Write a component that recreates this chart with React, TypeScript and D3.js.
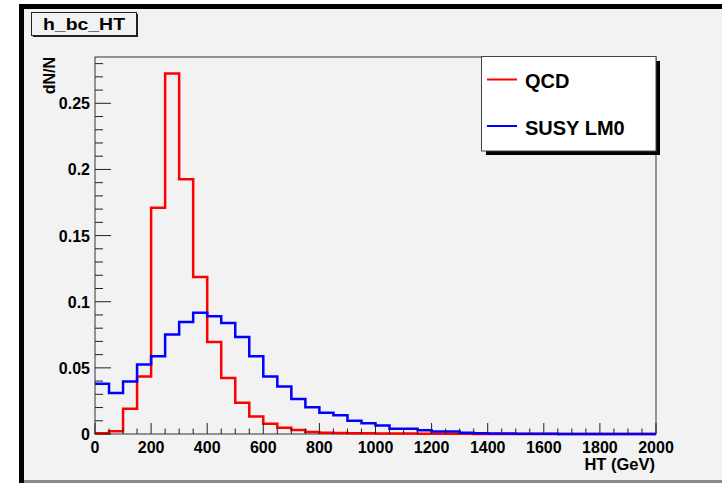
import React from "react";
import * as d3 from "d3";

const binEdges: number[] = d3.range(0, 2001, 50);
const qcdValues: number[] = [
  0.0005, 0.002, 0.019, 0.0435, 0.171, 0.2725, 0.1925, 0.1187, 0.0695, 0.0423,
  0.0236, 0.0132, 0.0077, 0.0047, 0.0031, 0.0015, 0.001, 0.0008, 0.0006, 0.0005,
  0.0004, 0.0003, 0.0003, 0.0002, 0.0002, 0.0002, 0.0001, 0, 0, 0,
  0, 0, 0, 0, 0, 0, 0, 0, 0, 0,
];
const susyValues: number[] = [
  0.038, 0.031, 0.0397, 0.0526, 0.0587, 0.0753, 0.0847, 0.0917, 0.089, 0.0839,
  0.0733, 0.0587, 0.0435, 0.036, 0.0265, 0.0203, 0.016, 0.0142, 0.01, 0.0082,
  0.0064, 0.0039, 0.0039, 0.0029, 0.0019, 0.0019, 0.0009, 0.0006, 0.0004, 0.0003,
  0.0002, 0.0001, 0.0001, 0.00005, 0, 0, 0, 0, 0, 0,
];
const xTickLabels: number[] = [0, 200, 400, 600, 800, 1000, 1200, 1400, 1600, 1800, 2000];
const yTickLabels: number[] = [0, 0.05, 0.1, 0.15, 0.2, 0.25];
const seriesNames: string[] = ["QCD", "SUSY LM0"];
const seriesColors: string[] = ["#ff0000", "#0000ff"];

const FONT = "'Liberation Sans', Arial, Helvetica, sans-serif";

export default function App() {
  const W = 722, H = 483;
  const left = 95, right = 656, top = 57, bottom = 434;
  const x = d3.scaleLinear().domain([0, 2000]).range([left, right]);
  const y = d3.scaleLinear().domain([0, 0.285]).range([bottom, top]);

  const histPath = (vals: number[]) => {
    const p = d3.path();
    vals.forEach((v, i) => {
      const x0 = x(binEdges[i]);
      const x1 = x(binEdges[i + 1]);
      const yy = y(v);
      if (i === 0) p.moveTo(x0, yy);
      else p.lineTo(x0, yy);
      p.lineTo(x1, yy);
    });
    return p.toString();
  };

  const yMinor = d3.range(0, 0.2801, 0.01);
  const xMinor = d3.range(0, 2001, 50);

  return (
    <div style={{ position: "fixed", left: 0, top: 0 }}>
      <svg width={W} height={H} style={{ display: "block" }} fontFamily={FONT}>
        <rect x={0} y={0} width={W} height={H} fill="#ffffff" />
        <rect x={20} y={5} width={W - 20} height={H - 5} fill="#f2f2f2" />
        <rect x={19} y={4} width={W - 19} height={5} fill="#000" />
        <rect x={19} y={4} width={5} height={H - 4} fill="#000" />
        <rect x={24} y={480} width={W - 24} height={3} fill="#8a8a8a" />

        {/* title box */}
        <rect x={33} y={14} width={105} height={23} fill="#222" />
        <rect x={31.5} y={12.5} width={105} height={23} fill="#f2f2f2" stroke="#222" strokeWidth={1} />
        <text x={43} y={30} fontSize={17} fontWeight="bold" fill="#000" textLength={82} lengthAdjust="spacingAndGlyphs">h_bc_HT</text>

        {/* frame */}
        <rect x={left} y={top} width={right - left} height={bottom - top} fill="none" stroke="#333" strokeWidth={1} />

        {/* histograms */}
        <path d={histPath(qcdValues)} fill="none" stroke={seriesColors[0]} strokeWidth={2.5} />
        <path d={histPath(susyValues)} fill="none" stroke={seriesColors[1]} strokeWidth={2.5} />

        {/* y ticks */}
        {yMinor.map((v, i) => {
          const major = i % 5 === 0;
          return (
            <line key={"ym" + i} x1={left} x2={left + (major ? 16 : 8)} y1={y(v)} y2={y(v)} stroke="#222" strokeWidth={1} />
          );
        })}
        {yTickLabels.map((v) => (
          <text key={"yl" + v} x={90} y={y(v) + 6} textAnchor="end" fontSize={16} fontWeight="bold" fill="#000">
            {String(v)}
          </text>
        ))}
        <text transform={`translate(55,57) rotate(-90)`} textAnchor="end" fontSize={16} fontWeight="bold" fill="#000">dN/N</text>

        {/* x ticks */}
        {xMinor.map((v, i) => {
          const major = v % 200 === 0;
          return (
            <line key={"xm" + i} x1={x(v)} x2={x(v)} y1={bottom} y2={bottom - (major ? 11 : 5.5)} stroke="#222" strokeWidth={1} />
          );
        })}
        {xTickLabels.map((v) => (
          <text key={"xl" + v} x={x(v)} y={453} textAnchor="middle" fontSize={16} fontWeight="bold" fill="#000">
            {String(v)}
          </text>
        ))}
        <text x={655} y={470} textAnchor="end" fontSize={16.5} fontWeight="bold" fill="#000">HT (GeV)</text>

        {/* legend */}
        <rect x={486} y={61} width={174} height={94} fill="#000" />
        <rect x={481.5} y={56.5} width={174.5} height={94.5} fill="#ffffff" stroke="#444" strokeWidth={1} />
        {seriesNames.map((n, i) => {
          const ly = 79.5 + i * 46.5;
          return (
            <g key={n}>
              <line x1={487} x2={517} y1={ly} y2={ly} stroke={seriesColors[i]} strokeWidth={2} />
              <text x={525} y={ly + 8.5} fontSize={20} fontWeight="bold" fill="#000">{n}</text>
            </g>
          );
        })}
      </svg>
    </div>
  );
}
